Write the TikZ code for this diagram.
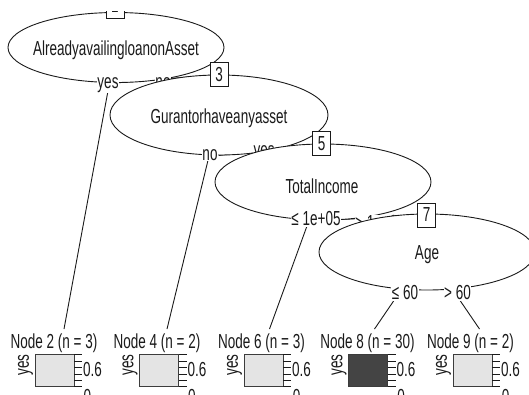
\documentclass[tikz,border=0pt]{standalone}
\usepackage{fontspec}
\setmainfont{Liberation Sans}[FakeStretch=0.665]
\usetikzlibrary{shapes.geometric}
\pgfdeclarelayer{bg}
\pgfsetlayers{bg,main}
\definecolor{barlight}{HTML}{E4E4E4}
\definecolor{bardark}{HTML}{444444}
\definecolor{ink}{HTML}{1A1A1A}
\begin{document}
\begin{tikzpicture}[x=1pt,y=-1pt,
  every node/.style={font=\fontsize{20.3}{21}\selectfont, text=ink},
  split/.style={ellipse, draw=ink, fill=white, line width=0.9pt, inner sep=0pt},
  idbox/.style={draw=ink, fill=white, line width=0.9pt, minimum width=18pt, minimum height=24pt, inner sep=0pt},
  elab/.style={fill=white, inner sep=0.6pt},
  conn/.style={draw=ink, line width=0.9pt},
  bar/.style={draw=ink!85, line width=0.9pt, inner sep=0pt, minimum width=39pt, minimum height=32pt, anchor=north west},
  tick/.style={draw=ink, line width=0.9pt}
]
\useasboundingbox (0,0) rectangle (529,394);
\begin{scope}
\clip (0,11.5) rectangle (529,394);
% level 1
\node[split, minimum width=216pt, minimum height=70pt] (n1) at (116,47.5) {};
\node (l1) at (116,50) {AlreadyavailingloanonAsset};
\node[idbox] (b1) at (115,6) {1};
\node[elab] (e12) at (108,85) {yes};
\node[elab] (e13) at (163,83) {no};
% level 2
\node[split, minimum width=218pt, minimum height=80pt] (n3) at (219,115) {};
\node (l3) at (219,118) {Gurantorhaveanyasset};
\node[idbox] (b3) at (219,74.5) {3};
\node[elab] (e34) at (210,155) {no};
\node[elab] (e35) at (264,153.5) {yes};
% level 3
\node[split, minimum width=216pt, minimum height=76pt] (n5) at (323,182) {};
\node (l5) at (322,186) {TotalIncome};
\node[idbox] (b5) at (321.5,143.5) {5};
\node[elab] (e56) at (316,219) {≤ 1e+05};
\node[elab] (e57) at (380,222.5) {> 1e+05};
% level 4
\node[split, minimum width=216pt, minimum height=76pt] (n7) at (427,252) {};
\node (l7) at (427,255) {Age};
\node[idbox] (b7) at (426.5,215) {7};
\node[elab] (e78) at (405,293) {≤ 60};
\node[elab] (e79) at (457.5,293) {> 60};
% terminal panels
\foreach \k/\n/\c/\r/\f in {2/3/54/34.5/barlight, 4/2/157/139/barlight, 6/3/261.5/243.5/barlight, 8/30/367.5/348/bardark, 9/2/470.5/452.5/barlight}{
  \node (t\k) at (\c,343) {Node \k\ (n = \n)};
  \node[bar, fill=\f] (r\k) at (\r,354) {};
  \foreach \j in {0,...,5} \draw[tick] ([yshift=\j*6.4pt]r\k.south east) -- ++(8,0);
  \node[rotate=90] (y\k) at (\r-9,365) {yes};
  \node (s\k) at (\r+58,370) {0.6};
  \node (z\k) at (\r+53,397) {0};
}
\end{scope}
\begin{pgfonlayer}{bg}
\draw[conn] (n1.center) -- ([xshift=10pt,yshift=1pt]t2.north);
\draw[conn] (n1.south) -- (b3);
\draw[conn] (n3.center) -- ([xshift=10pt,yshift=1pt]t4.north);
\draw[conn] (n3.south) -- (b5);
\draw[conn] (n5.center) -- ([xshift=8pt,yshift=1pt]t6.north);
\draw[conn] (n5.south) -- (b7);
\draw[conn] (n7.center) -- ([xshift=7pt,yshift=1pt]t8.north);
\draw[conn] (n7.center) -- ([xshift=9pt,yshift=1pt]t9.north);
\end{pgfonlayer}
\end{tikzpicture}
\end{document}
